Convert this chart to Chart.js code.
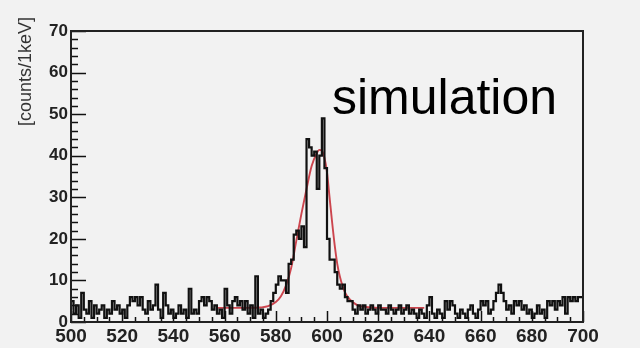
<!DOCTYPE html>
<html>
<head>
<meta charset="utf-8">
<script src="https://cdn.jsdelivr.net/npm/chart.js@4.4.1/dist/chart.umd.min.js"></script>
<style>
  html, body { margin: 0; padding: 0; background: #f2f2f2; }
  #wrap { width: 640px; height: 348px; position: relative; }
</style>
</head>
<body>
<div id="wrap"><canvas id="spectrum" width="640" height="348"></canvas></div>
<script>
/* Energy spectrum, 1 keV bins from 500 to 700 keV */
const binLow = 500;
const binHigh = 700;
const counts = [
  3, 5, 2, 4, 1, 7, 3, 2, 5, 1,      // 500
  4, 2, 3, 4, 1, 3, 2, 5, 3, 4,      // 510
  2, 3, 1, 4, 6, 5, 6, 4, 6, 3,      // 520
  2, 5, 3, 4, 9, 3, 1, 7, 4, 2,      // 530
  3, 1, 2, 4, 2, 3, 1, 8, 2, 3,      // 540
  2, 5, 6, 4, 6, 5, 3, 4, 2, 3,      // 550
  1, 8, 4, 2, 5, 6, 4, 5, 3, 5,      // 560
  2, 4, 1, 11, 2, 3, 1, 2, 3, 5,     // 570
  7, 9, 11, 10, 10, 7, 14, 15, 21, 22,   // 580
  20, 23, 18, 44, 42, 40, 41, 32, 40, 49, // 590
  37, 20, 15, 15, 12, 9, 8, 9, 6, 5, // 600
  5, 3, 2, 4, 3, 4, 2, 3, 4, 3,      // 610
  2, 4, 3, 3, 2, 4, 3, 2, 3, 4,      // 620
  2, 3, 4, 2, 3, 2, 1, 3, 2, 1,      // 630
  4, 6, 2, 1, 3, 2, 1, 5, 3, 5,      // 640
  4, 2, 1, 3, 2, 1, 3, 4, 2, 1,      // 650
  3, 5, 4, 5, 2, 3, 5, 7, 9, 7,      // 660
  5, 3, 4, 2, 5, 4, 5, 3, 4, 2,      // 670
  3, 1, 2, 4, 2, 3, 1, 5, 4, 5,      // 680
  3, 5, 4, 6, 2, 6, 5, 6, 5, 6       // 690
];

/* Fitted peak + flat background */
const fitEnergy = [557, 565, 570, 574, 577, 580, 582, 584, 586, 588, 590, 592, 594, 596, 597, 598, 599, 600, 601, 602, 603, 604, 605, 606, 607, 608, 610, 612, 615, 620, 630, 638];
const fitCounts = [3.4, 3.4, 3.4, 3.5, 3.8, 4.8, 6.2, 8.8, 13, 19.5, 26, 32, 37.5, 40.6, 41.4, 41.2, 39.5, 36, 30, 24, 18.5, 14, 11, 8.8, 7.2, 6.1, 4.8, 4.0, 3.6, 3.4, 3.4, 3.4];

const yRange = [0, 70];
const xMajorStep = 20, xMinorStep = 5;
const yMajorStep = 10, yMinorStep = 2;

const histPoints = counts.map((c, i) => ({ x: binLow + i, y: c }));
histPoints.push({ x: binHigh, y: counts[counts.length - 1] });
const fitPoints = fitEnergy.map((e, i) => ({ x: e, y: fitCounts[i] }));

// frame, inward tick marks and free-standing labels
const framePlugin = {
  id: 'frame',
  beforeDraw(chart) {
    const c = chart.ctx;
    c.save();
    c.fillStyle = '#f2f2f2';
    c.fillRect(0, 0, chart.width, chart.height);
    c.restore();
  },
  afterDraw(chart) {
    const c = chart.ctx, a = chart.chartArea;
    const xs = chart.scales.x, ys = chart.scales.y;
    c.save();
    c.strokeStyle = '#111';
    c.lineWidth = 1.5;
    for (let v = binLow; v <= binHigh; v += xMinorStep) {
      const px = Math.round(xs.getPixelForValue(v)) + 0.5;
      const len = (v - binLow) % xMajorStep === 0 ? 11 : 5;
      c.beginPath(); c.moveTo(px, a.bottom); c.lineTo(px, a.bottom - len); c.stroke();
    }
    for (let v = yRange[0]; v <= yRange[1]; v += yMinorStep) {
      const py = Math.round(ys.getPixelForValue(v)) + 0.5;
      const len = v % yMajorStep === 0 ? 15 : 7;
      c.beginPath(); c.moveTo(a.left, py); c.lineTo(a.left + len, py); c.stroke();
    }
    c.lineWidth = 2;
    c.strokeStyle = '#222';
    c.strokeRect(a.left, a.top, a.right - a.left, a.bottom - a.top);

    c.fillStyle = '#000';
    c.font = '50px "Liberation Sans", Arial, sans-serif';
    c.textBaseline = 'alphabetic';
    c.textAlign = 'left';
    c.fillText('simulation', 332, 114);

    c.translate(31, 126);
    c.rotate(-Math.PI / 2);
    c.fillStyle = '#333';
    c.font = '18px "Liberation Sans", Arial, sans-serif';
    c.fillText('[counts/1keV]', 0, 0);
    c.restore();
  }
};

new Chart(document.getElementById('spectrum'), {
  type: 'line',
  data: {
    datasets: [
      { label: 'data', data: histPoints, stepped: 'after', borderColor: '#111',
        borderWidth: 2.2, pointRadius: 0, fill: false },
      { label: 'fit', data: fitPoints, borderColor: 'rgba(200,50,60,0.9)', borderWidth: 1.9,
        pointRadius: 0, cubicInterpolationMode: 'monotone', fill: false }
    ]
  },
  options: {
    responsive: false,
    animation: false,
    layout: { padding: { left: 0, right: 57, top: 31, bottom: 0 } },
    plugins: { legend: { display: false }, tooltip: { enabled: false } },
    scales: {
      x: {
        type: 'linear', min: binLow, max: binHigh,
        grid: { display: false, drawTicks: false }, border: { display: false },
        afterFit: s => { s.height = 26; },
        ticks: { stepSize: xMajorStep, autoSkip: false, maxRotation: 0, padding: 3,
          color: '#222', font: { family: '"Liberation Sans", Arial', size: 19, weight: 'bold' } }
      },
      y: {
        min: yRange[0], max: yRange[1],
        grid: { display: false, drawTicks: false }, border: { display: false },
        afterFit: s => { s.width = 71; },
        ticks: { stepSize: yMajorStep, padding: 3,
          color: '#222', font: { family: '"Liberation Sans", Arial', size: 17, weight: 'bold' } }
      }
    }
  },
  plugins: [framePlugin]
});
</script>
</body>
</html>
